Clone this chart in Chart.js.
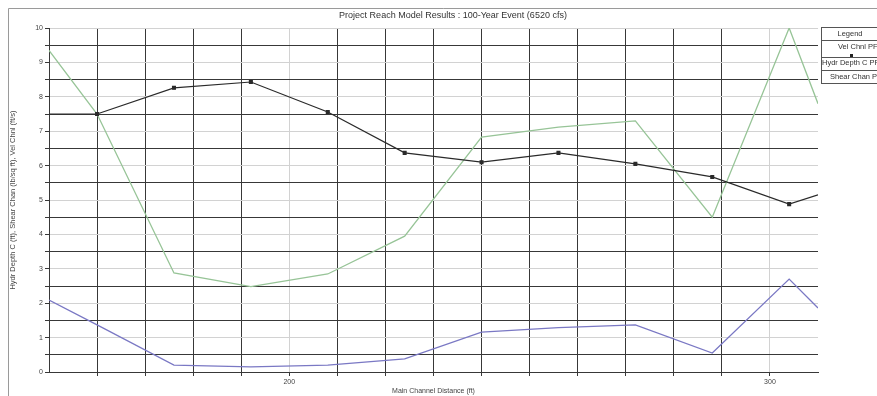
<!DOCTYPE html>
<html>
<head>
<meta charset="utf-8">
<script src="https://cdn.jsdelivr.net/npm/chart.js@4/dist/chart.umd.min.js"></script>
<style>
  html, body { margin: 0; padding: 0; background: #fff; overflow: hidden; }
  #wrap { width: 877px; height: 396px; position: relative; }
</style>
</head>
<body>
<div id="wrap"><canvas id="c" width="877" height="396"></canvas></div>
<script>
// Main channel stations (ft)
const stations   = [150, 160, 176, 192, 208, 224, 240, 256, 272, 288, 304, 310];
// Profile values for PF 1
const velChnl    = [7.5, 7.5, 8.26, 8.43, 7.56, 6.37, 6.1, 6.37, 6.05, 5.67, 4.88, 5.15];
const hydrDepth  = [9.35, 7.5, 2.88, 2.48, 2.85, 3.95, 6.83, 7.12, 7.3, 4.5, 10.0, 7.8];
const shearChan  = [2.09, 1.37, 0.2, 0.15, 0.2, 0.38, 1.16, 1.29, 1.37, 0.55, 2.7, 1.86];
// Axis ticks
const xTicks     = [160, 170, 180, 190, 200, 210, 220, 230, 240, 250, 260, 270, 280, 290, 300];
const xLabelled  = [200, 300];
const yTicks     = [0, 0.5, 1, 1.5, 2, 2.5, 3, 3.5, 4, 4.5, 5, 5.5, 6, 6.5, 7, 7.5, 8, 8.5, 9, 9.5, 10];

const seriesNames = ['Vel Chnl PF 1', 'Hydr Depth C PF 1', 'Shear Chan PF 1'];
const titleText = 'Project Reach Model Results : 100-Year Event (6520 cfs)';

const DARK = '#383838';
const LIGHT = '#d2d2d2';
const FONT = '"Liberation Sans", Arial, sans-serif';

function pts(ys) { return stations.map((x, i) => ({ x: x, y: ys[i] })); }

// Frame, title and boxed legend
const decor = {
  id: 'decor',
  afterDraw(chart) {
    const ctx = chart.ctx;
    ctx.save();
    ctx.strokeStyle = '#9a9a9a';
    ctx.lineWidth = 1;
    ctx.beginPath();
    ctx.moveTo(8.5, 400); ctx.lineTo(8.5, 8.5); ctx.lineTo(880, 8.5);
    ctx.stroke();

    ctx.fillStyle = '#333';
    ctx.font = '9px ' + FONT;
    ctx.textAlign = 'center';
    ctx.textBaseline = 'middle';
    ctx.fillText(titleText, 453, 16);

    // legend box
    const lx = 821.5, rx = 900;
    ctx.strokeStyle = '#555';
    ctx.fillStyle = '#fff';
    ctx.fillRect(lx, 27.5, rx - lx, 56);
    ctx.strokeRect(lx, 27.5, rx - lx, 56);
    [40.5, 57.5, 70.5].forEach(y => {
      ctx.beginPath(); ctx.moveTo(lx, y); ctx.lineTo(rx, y); ctx.stroke();
    });
    ctx.fillStyle = '#333';
    ctx.font = '7.5px ' + FONT;
    ctx.fillText('Legend', 850, 34);
    ctx.textAlign = 'left';
    ctx.fillText(seriesNames[0], 838, 47);
    ctx.fillText(seriesNames[1], 822, 63);
    ctx.fillText(seriesNames[2], 830, 77);
    ctx.fillStyle = '#222';
    ctx.fillRect(850, 54, 3, 3);
    ctx.restore();
  }
};

new Chart(document.getElementById('c'), {
  type: 'line',
  data: {
    datasets: [
      {
        label: seriesNames[0], data: pts(velChnl),
        borderColor: '#2a2a2a', backgroundColor: '#2a2a2a', borderWidth: 1.2,
        pointStyle: 'rect',
        pointRadius: stations.map((s, i) => (i === 0 || i === stations.length - 1) ? 0 : 2),
        order: 0
      },
      {
        label: seriesNames[1], data: pts(hydrDepth),
        borderColor: '#97c497', backgroundColor: '#97c497', borderWidth: 1.3,
        pointRadius: 0, order: 1
      },
      {
        label: seriesNames[2], data: pts(shearChan),
        borderColor: '#7a78c4', backgroundColor: '#7a78c4', borderWidth: 1.3,
        pointRadius: 0, order: 2
      }
    ]
  },
  options: {
    responsive: false,
    animation: false,
    devicePixelRatio: 1,
    layout: { padding: { top: 28, right: 59, left: 0, bottom: 0 } },
    plugins: { legend: { display: false }, title: { display: false }, tooltip: { enabled: false } },
    elements: { line: { tension: 0 } },
    scales: {
      x: {
        type: 'linear', min: 150, max: 310, position: 'bottom',
        afterFit(s) { s.height = 24; },
        afterBuildTicks(s) { s.ticks = xTicks.map(v => ({ value: v })); },
        grid: {
          color: c => (c.tick && xLabelled.includes(c.tick.value)) ? LIGHT : DARK,
          tickColor: DARK, tickLength: 4, lineWidth: 1
        },
        border: { display: true, color: DARK, width: 1 },
        ticks: {
          autoSkip: false, maxRotation: 0, padding: 2,
          callback: v => xLabelled.includes(v) ? String(v) : '',
          font: { size: 7, family: FONT }, color: '#444'
        },
        title: {
          display: true, text: 'Main Channel Distance (ft)',
          font: { size: 7, family: FONT }, color: '#444',
          padding: { top: 0, bottom: 1 }
        }
      },
      y: {
        min: 0, max: 10,
        afterFit(s) { s.width = 49; },
        afterBuildTicks(s) { s.ticks = yTicks.map(v => ({ value: v })); },
        grid: {
          color: c => (c.tick && Number.isInteger(c.tick.value)) ? LIGHT : DARK,
          tickColor: DARK, tickLength: 4, lineWidth: 1
        },
        border: { display: true, color: DARK, width: 1 },
        ticks: {
          autoSkip: false, padding: 2,
          callback: v => Number.isInteger(v) ? String(v) : '',
          font: { size: 7, family: FONT }, color: '#444'
        },
        title: {
          display: true,
          text: 'Hydr Depth C (ft), Shear Chan (lb/sq ft), Vel Chnl (ft/s)',
          font: { size: 7.5, family: FONT }, color: '#444',
          padding: { top: 8, bottom: 0 }
        }
      }
    }
  },
  plugins: [decor]
});
</script>
</body>
</html>
